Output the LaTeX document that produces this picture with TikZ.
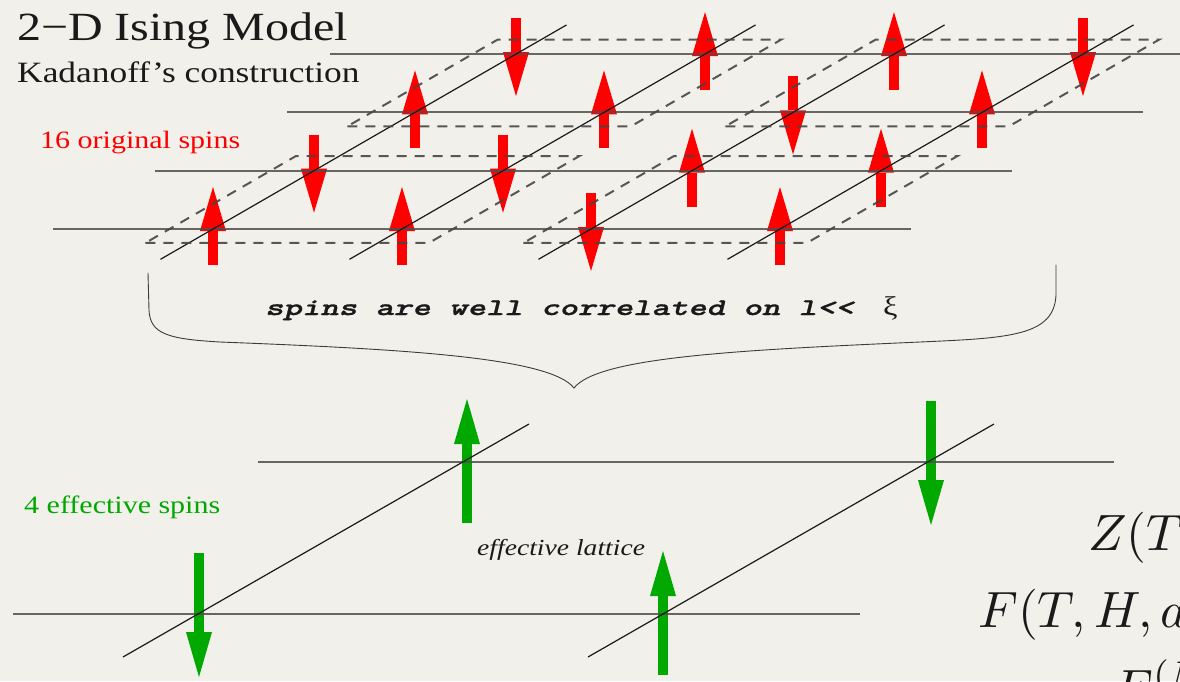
\documentclass[tikz,border=0pt]{standalone}
\usepackage[no-math]{fontspec}
\setmainfont{Liberation Serif}
\newfontfamily\letraancha[FakeStretch=1.2]{Liberation Serif}
\newfontfamily\letramono[FakeStretch=1.46, FakeBold=1.2]{lmmonolt10-boldoblique.otf}
\usetikzlibrary{arrows.meta, calc}
\definecolor{tinta}{HTML}{1A1A1A}
\definecolor{papel}{HTML}{F2F0EB}
\definecolor{grisred}{HTML}{4E4E4E}
\definecolor{rojo}{HTML}{FF0000}
\definecolor{verde}{HTML}{00A800}
\tikzset{
  % Filas de la red: horizontales grises, algo gruesas
  fila/.style     = {line width=2pt, color=grisred, opacity=0.85},
  % Columnas de la red: oblicuas finas y oscuras
  columna/.style  = {line width=1.2pt, color=tinta},
  % Contorno de cada bloque de Kadanoff (2x2 espines)
  bloque/.style   = {line width=2pt, color=grisred!90!black, opacity=0.9,
                     dash pattern=on 10pt off 8pt},
  % Espines originales (rojo)
  espin/.style    = {line width=10pt, color=rojo,
                     -{Triangle[length=44pt, width=26pt, line width=0pt]}},
  % Espines efectivos (verde)
  espin efectivo/.style = {line width=9.5pt, color=verde,
                     -{Triangle[length=45pt, width=26pt, line width=0pt]}},
  % Llave que agrupa la red original
  llave/.style    = {line width=0.9pt, color=tinta!85, line cap=round},
  every node/.style = {color=tinta, inner sep=0pt},
}

\begin{document}
\begin{tikzpicture}[x=1pt, y=-1pt]

  \useasboundingbox (0,0) rectangle (1180,681);
  \clip (0,0) rectangle (1180,681);
  \fill[papel] (0,0) rectangle (1180,681);

  % ============================================================
  % RED ORIGINAL: 4x4 espines, vectores de la red
  % ============================================================
  \coordinate (O) at (213,229);    % espín de abajo a la izquierda
  \coordinate (a) at (189,0);      % paso entre columnas
  \coordinate (b) at (101,-58.3);  % paso entre filas (oblicuo)

  \foreach \i in {0,...,3}
    \foreach \j in {0,...,3}
      \coordinate (s\i\j) at ($(O)+\i*(a)+\j*(b)$);

  % espines: columna/fila/sentido (1 arriba, -1 abajo)
  \foreach \i/\j/\s in {0/0/1, 1/0/1, 2/0/-1, 3/0/1,
                        0/1/-1, 1/1/-1, 2/1/1, 3/1/1,
                        0/2/1, 1/2/1, 2/2/-1, 3/2/1,
                        0/3/-1, 1/3/1, 2/3/1, 3/3/-1}
    \draw[espin] ($(s\i\j)+(0,36*\s)$) -- ($(s\i\j)+(0,-42*\s)$);

  % filas y columnas
  \foreach \y/\xa/\xb in {229/53/911, 171/155/1012, 112/287/1143, 54/330/1190}
    \draw[fila] (\xa,\y) -- (\xb,\y);
  \foreach \i in {0,...,3}
    \draw[columna] ($(O)+\i*(a)-0.52*(b)$) -- ($(O)+\i*(a)+3.5*(b)$);

  % bloques de Kadanoff
  \foreach \bi/\bj in {0/0, 2/0, 0/2, 2/2}
    \draw[bloque] ($(O)+{\bi-0.23}*(a)+{\bj-0.24}*(b)$)
               -- ($(O)+{\bi+1.27}*(a)+{\bj-0.24}*(b)$)
               -- ($(O)+{\bi+1.27}*(a)+{\bj+1.25}*(b)$)
               -- ($(O)+{\bi-0.23}*(a)+{\bj+1.25}*(b)$) -- cycle;

  % llave
  \draw[llave] (148,273) -- (149,310)
    .. controls (150,334) and (168,339) .. (220,342)
    .. controls (400,349) and (550,357) .. (574,388)
    .. controls (598,357) and (740,350) .. (920,342)
    .. controls (1010,338) and (1054,336) .. (1056,295) -- (1056,265);

  % ============================================================
  % RED EFECTIVA: 2x2 espines
  % ============================================================
  \coordinate (E) at (199,614);
  \coordinate (c) at (464,0);
  \coordinate (d) at (268,-152);
  \foreach \i in {0,1}
    \foreach \j in {0,1}
      \coordinate (e\i\j) at ($(E)+\i*(c)+\j*(d)$);

  \foreach \i/\j/\s in {0/0/-1, 1/0/1, 0/1/1, 1/1/-1}
    \draw[espin efectivo] ($(e\i\j)+(0,61*\s)$) -- ($(e\i\j)+(0,-63*\s)$);

  \draw[fila] (13,614) -- (860,614);
  \draw[fila] (258,462) -- (1114,462);
  \draw[columna] (123,657) -- (529,424);
  \draw[columna] (588,657) -- (994,424);

  % ============================================================
  % TEXTOS
  % ============================================================
  \node[anchor=base west, font=\letraancha\fontsize{40}{48}\selectfont]
    (titulo) at (17,40) {2−D Ising Model};
  \node[anchor=base west, font=\letraancha\fontsize{29.5}{35}\selectfont]
    (subtitulo) at (17,82) {Kadanoff’s construction};
  \node[anchor=base west, text=rojo, font=\letraancha\fontsize{25}{30}\selectfont]
    (originales) at (40,148) {16 original spins};
  \node[anchor=base west, text=verde, font=\letraancha\fontsize{25}{30}\selectfont]
    (efectivos) at (24,513) {4 effective spins};
  \node[anchor=base west, font=\letraancha\itshape\fontsize{23}{28}\selectfont]
    (redefectiva) at (477,555) {effective lattice};
  \node[anchor=base west, font=\letramono\fontsize{24}{28}\selectfont]
    (correlacion) at (265,315) {spins are well correlated on l<<};
  \node[anchor=base west, font=\letraancha\fontsize{27}{30}\selectfont]
    (xi) at (883,315) {ξ};

  % ecuaciones (cortadas por el borde)
  \node[anchor=base west] (particion) at (1088,550) {\scalebox{5.1}{$Z(T$}};
  \node[anchor=base west] (libre) at (978,627) {\scalebox{5.1}{$F(T,H,a$}};
  \node[anchor=base west] (libreN) at (1113,705) {\scalebox{5.1}{$F^{(N}$}};

\end{tikzpicture}
\end{document}
